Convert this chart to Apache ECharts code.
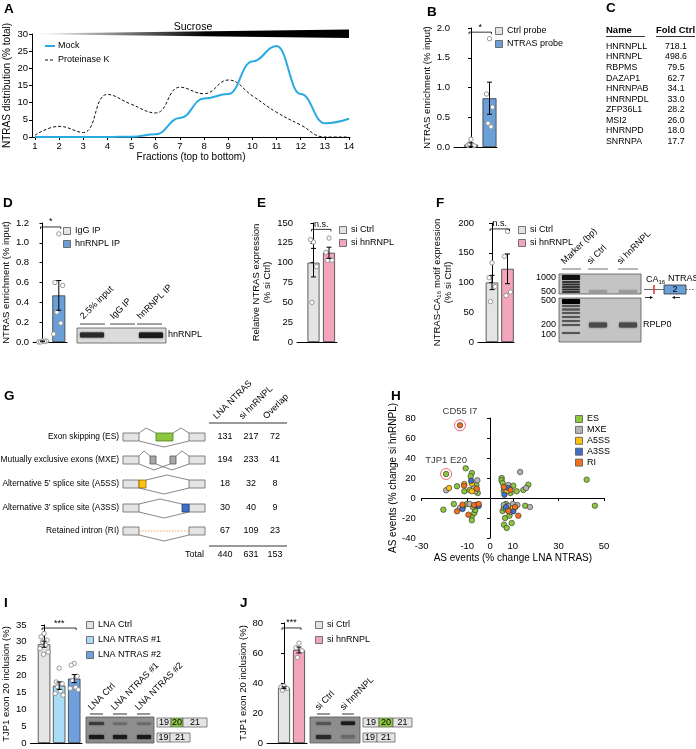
<!DOCTYPE html>
<html><head><meta charset="utf-8">
<script src="https://cdn.jsdelivr.net/npm/echarts@6/dist/echarts.min.js"></script>
<style>html,body{margin:0;padding:0;background:#fff}#c{width:696px;height:749px}</style>
</head><body><div id="c"></div>
<script>
// ================= DATA =================
// A
const fractions = [1,2,3,4,5,6,7,8,9,10,11,12,13,14];
const mockValues = [0,0,0,0,0.1,0.8,5.5,11.2,12.5,22,26.5,12.5,4,5.3];
const protKValues = [0.5,3.1,1.3,12.4,9.5,7,14.5,12.6,16.6,12,7.2,3.5,0,0];
// B
const bCats = ['Ctrl probe','NTRAS probe'];
const bMeans = [0.04, 0.82];
const bErrors = [0.03, 0.27];
const bPoints = [[0.13,0.03,0.02,0.05],[1.82,0.89,0.67,0.40,0.34]];
// C
const cNames = ['HNRNPLL','HNRNPL','RBPMS','DAZAP1','HNRNPAB','HNRNPDL','ZFP36L1','MSI2','HNRNPD','SNRNPA'];
const cFold = ['718.1','498.6','79.5','62.7','34.1','33.0','28.2','26.0','18.0','17.7'];
// D
const dCats = ['IgG IP','hnRNPL IP'];
const dMeans = [0.006, 0.47];
const dErrors = [0.004, 0.15];
const dPoints = [[0.01,0.0,0.01,0.0,0.005],[1.09,0.60,0.57,0.30,0.19,0.08]];
const dLanes = ['2.5% input','IgG IP','hnRNPL IP'];
// E
const eCats = ['si Ctrl','si hnRNPL'];
const eMeans = [100, 112.5];
const eErrors = [18, 7];
const ePoints = [[126,129,95,50],[131,113,103,103]];
// F
const fCats = ['si Ctrl','si hnRNPL'];
const fMeans = [100, 123];
const fErrors = [12, 25];
const fPoints = [[133,108,93,68],[186,144,84,78]];
const fLanes = ['Marker (bp)','si Ctrl','si hnRNPL'];
const fMarkerTop = ['1000','500'];
const fMarkerBottom = ['500','200','100'];
// G
const gEvents = ['Exon skipping (ES)','Mutually exclusive exons (MXE)','Alternative 5\u2019 splice site (A5SS)','Alternative 3\u2019 splice site (A3SS)','Retained intron (RI)'];
const gCols = ['LNA NTRAS','si hnRNPL','Overlap'];
const gLNA = [131,194,18,30,67];
const gSi = [217,233,32,40,109];
const gOverlap = [72,41,8,9,23];
const gTotal = [440,631,153];
// H
const hCats = ['ES','MXE','A5SS','A3SS','RI'];
const hES = [[-19.3,24],[-10.7,29.7],[-8,25],[-8.5,21.7],[-14.5,11.7],[-11.3,6.7],[-5.4,5],[-9,8],[-6,13],
  [-20.5,-11.7],[-15.9,-6],[-10.2,-6],[-8,-18.3],[-8,-22.3],[-6.9,-15],[-6.5,-12],[-7.5,-9],[-12,-9],
  [5.1,20],[5,17.7],[5.5,15],[16.8,13.3],[14.6,8],[10.2,12.3],[11.7,6.7],[9,5],[6,7],
  [6.1,-26.7],[7.3,-30],[9.5,-25],[6.6,-20],[8.5,-17.7],[15.4,-7.7],[5.5,-13],[6,-10],[7,-6],[9,-11],[11,-9],
  [42.4,18.3],[46,-7.7]];
const hMXE = [[-19.3,7.7],[-5.6,17.7],[-6.4,6.7],[-7,10],[-13.2,-10],[-9,-6],[-6,-8],
  [13.2,26],[15.8,10],[6.6,9],[8,13],[17.5,-9],[8,-8],[10,-6],[12,-7],[6,-7],[7,-11],[9,-14]];
const hA5SS = [[-18,10],[-11.3,14],[-8,14.3],[-8,6.7],[7.3,6.7],[8,-12],[-6,-7],[10,-10]];
const hA3SS = [[-8.3,17.3],[-12.1,-11],[-6,-7],[6.3,3.3],[8,10],[10.2,-13.3],[7,-9],[-5,-8]];
const hRI = [[-13.2,72.7],[-11.4,12.3],[-5.8,9.3],[-14.5,-13.3],[-12.1,-6.7],[-9.5,-16.7],[-7,-7],[-5,-6],
  [6,11],[9,8],[12.4,-17.7],[8,-13],[11,-9]];
const hHighlights = [['CD55 I7',-13.2,72.7],['TJP1 E20',-19.3,24]];
// I
const iCats = ['LNA Ctrl','LNA NTRAS #1','LNA NTRAS #2'];
const iMeans = [29.3, 17.0, 19.1];
const iErrors = [0.9, 1.1, 1.2];
const iPoints = [[32.5,31.5,30.5,30,29,28,27,26.3],[22.2,18.1,17.6,16.6,15.4,14.7,14.2],[23.6,23.1,19.8,18.5,16.5,16.2,15.8]];
// J
const jCats = ['si Ctrl','si hnRNPL'];
const jMeans = [36.8, 62];
const jErrors = [0.6, 2];
const jPoints = [[38,37.3,36.4,35.2],[66.6,63.5,61.5,57]];

// ================= LAYOUT / STYLE =================
const FONT = '"Liberation Sans", Arial, Helvetica, sans-serif';
const GRAY = '#e4e4e4', BLUE = '#6a9fd8', PINK = '#f3a5bb', LBLUE = '#a9ddf5', MBLUE = '#6f9fdc';
const JIT = [0,-3,3,-1.5,1.5,-4,4,-0.5];
const grids = [], xAxes = [], yAxes = [], series = [], G = [];

function txt(x, y, t, o) {
  o = o || {};
  G.push({type:'text', x:x, y:y, rotation:o.rot || 0, scaleX:o.sx || 1, z:10,
    style:{text:t, fill:o.color || '#000', fontSize:o.size || 9, fontFamily:FONT, fontWeight:o.bold ? 'bold' : 'normal',
      align:o.align || 'left', verticalAlign:o.va || 'middle', rich:o.rich}});
}
function rect(x, y, w, h, fill, stroke, lw, extra) {
  G.push(Object.assign({type:'rect', z:9, shape:{x:x, y:y, width:w, height:h},
    style:{fill:fill, stroke:stroke || null, lineWidth:lw || 0}}, extra || {}));
}
function line(x1, y1, x2, y2, color, lw, dash) {
  G.push({type:'line', z:9, shape:{x1:x1, y1:y1, x2:x2, y2:y2}, style:{stroke:color || '#000', lineWidth:lw || 1, lineDash:dash || null}});
}
function poly(points, color, lw, dash) {
  G.push({type:'polyline', z:9, shape:{points:points}, style:{stroke:color || '#555', lineWidth:lw || 0.7, fill:null, lineDash:dash || null}});
}
function band(x, y, w, h, color, blur) {
  G.push({type:'rect', z:9, shape:{x:x, y:y, width:w, height:h, r:1},
    style:{fill:color, shadowBlur:blur || 2, shadowColor:color}});
}
function legend(x, y0, dy, labels, colors) {
  labels.forEach(function (l, i) {
    rect(x - 3.5, y0 + i * dy - 3.5, 7, 7, colors[i], '#555', 0.8);
    txt(x + 8, y0 + i * dy, l, {size:9});
  });
}
function letter(x, y, t) { txt(x, y, t, {size:13.5, bold:true}); }

function axisNameStyle() { return {fontSize:9.5, color:'#000', fontFamily:FONT, lineHeight:11}; }

function barPanel(c) {
  const gi = grids.length;
  grids.push({left:c.L, top:c.top, width:c.R - c.L, height:c.bottom - c.top});
  const unit = c.centers[1] - c.centers[0];
  const xi = xAxes.length, yi = yAxes.length;
  xAxes.push({type:'value', gridIndex:gi, min:-(c.centers[0] - c.L) / unit, max:(c.R - c.centers[0]) / unit,
    axisLine:{show:true, onZero:false, lineStyle:{color:'#000', width:1}}, axisTick:{show:false}, axisLabel:{show:false}, splitLine:{show:false}});
  yAxes.push({type:'value', gridIndex:gi, min:c.yMin, max:c.yMax, interval:c.yInt,
    name:c.yName, nameLocation:'middle', nameGap:c.nameGap, nameTextStyle:axisNameStyle(),
    axisLine:{show:true, lineStyle:{color:'#000', width:1}}, axisTick:{show:true, length:3, lineStyle:{color:'#000'}},
    axisLabel:{fontSize:9.5, color:'#000', margin:4, formatter:function (v) { return v.toFixed(c.yDec); }}, splitLine:{show:false}});
  series.push({type:'bar', xAxisIndex:xi, yAxisIndex:yi, barWidth:c.barW, z:2,
    data:c.means.map(function (m, i) { return {value:[i, m], itemStyle:{color:c.colors[i]}}; }),
    itemStyle:{borderColor:'#3a3a3a', borderWidth:0.8}});
  // data points
  const pd = [];
  c.pts.forEach(function (arr, i) { arr.forEach(function (v, k) { pd.push([i, v, k]); }); });
  series.push({type:'custom', xAxisIndex:xi, yAxisIndex:yi, z:4, data:pd, clip:false,
    renderItem:function (p, api) {
      const pt = api.coord([api.value(0), api.value(1)]);
      const off = JIT[api.value(2) % JIT.length] * (c.jit || 1);
      return {type:'circle', shape:{cx:pt[0] + off, cy:pt[1], r:2.2}, style:{fill:'#fff', stroke:'#8c8c8c', lineWidth:0.9}};
    }});
  // error bars
  series.push({type:'custom', xAxisIndex:xi, yAxisIndex:yi, z:5, clip:false,
    data:c.means.map(function (m, i) { return [i, m - c.errs[i], m + c.errs[i]]; }),
    renderItem:function (p, api) {
      const lo = api.coord([api.value(0), api.value(1)]), hi = api.coord([api.value(0), api.value(2)]);
      const cap = 2.5, st = {stroke:'#000', lineWidth:1};
      return {type:'group', children:[
        {type:'line', shape:{x1:lo[0], y1:lo[1], x2:hi[0], y2:hi[1]}, style:st},
        {type:'line', shape:{x1:hi[0] - cap, y1:hi[1], x2:hi[0] + cap, y2:hi[1]}, style:st},
        {type:'line', shape:{x1:lo[0] - cap, y1:lo[1], x2:lo[0] + cap, y2:lo[1]}, style:st}]};
    }});
  // significance bracket
  series.push({type:'custom', xAxisIndex:xi, yAxisIndex:yi, z:5, clip:false,
    data:[[0, c.means.length - 1, c.sigY]],
    renderItem:function (p, api) {
      const a = api.coord([api.value(0), api.value(2)]), b = api.coord([api.value(1), api.value(2)]);
      const st = {stroke:'#000', lineWidth:0.8};
      return {type:'group', children:[
        {type:'line', shape:{x1:a[0] - 2, y1:a[1], x2:b[0] + 2, y2:b[1]}, style:st},
        {type:'line', shape:{x1:a[0] - 2, y1:a[1], x2:a[0] - 2, y2:a[1] + 2}, style:st},
        {type:'line', shape:{x1:b[0] + 2, y1:b[1], x2:b[0] + 2, y2:b[1] + 2}, style:st},
        {type:'text', x:(a[0] + b[0]) / 2, y:a[1] - 0.5, style:{text:c.sig, align:'center', verticalAlign:'bottom', fontSize:c.sigSize || 9, fontFamily:FONT, fill:'#000'}}]};
    }});
}

// ---------- Panel A ----------
letter(4, 9, 'A');
grids.push({left:32, top:34, width:318, height:103});
xAxes.push({type:'value', gridIndex:0, min:0.88, max:14.04,
  name:'Fractions (top to bottom)', nameLocation:'middle', nameGap:15, nameTextStyle:{fontSize:10, color:'#000'},
  axisLine:{onZero:false, lineStyle:{color:'#000'}}, axisTick:{length:3, customValues:fractions, lineStyle:{color:'#000'}},
  axisLabel:{customValues:fractions, fontSize:9.5, color:'#000', margin:4}, splitLine:{show:false}});
yAxes.push({type:'value', gridIndex:0, min:0, max:30, interval:5,
  name:'NTRAS distribution (% total)', nameLocation:'middle', nameGap:20, nameTextStyle:{fontSize:10, color:'#000'},
  axisLine:{show:true, lineStyle:{color:'#000'}}, axisTick:{show:true, length:3, lineStyle:{color:'#000'}},
  axisLabel:{fontSize:9.5, color:'#000', margin:4}, splitLine:{show:false}});
series.push({type:'line', xAxisIndex:0, yAxisIndex:0, smooth:0.45, symbol:'none', z:3,
  data:fractions.map(function (f, i) { return [f, protKValues[i]]; }),
  lineStyle:{color:'#111', width:1, type:[3, 2]}});
series.push({type:'line', xAxisIndex:0, yAxisIndex:0, smooth:0.45, smoothMonotone:'x', symbol:'none', z:4,
  data:fractions.map(function (f, i) { return [f, mockValues[i]]; }),
  lineStyle:{color:'#29abe2', width:2}});
G.push({type:'polygon', z:8, shape:{points:[[35,33.6],[349,29.6],[349,38],[35,34.3]]},
  style:{fill:new echarts.graphic.LinearGradient(0, 0, 1, 0, [{offset:0, color:'#ffffff'}, {offset:0.55, color:'#000'}, {offset:1, color:'#000'}])}});
txt(193, 27, 'Sucrose', {size:10.5, align:'center'});
line(45, 46, 55, 46, '#29abe2', 2);
txt(58, 46, 'Mock', {size:9});
line(45, 60, 55, 60, '#111', 1, [3, 2]);
txt(58, 60, 'Proteinase K', {size:9});

// ---------- Panel B ----------
letter(427, 12, 'B');
barPanel({L:454, R:497, top:28, bottom:147, centers:[471, 489.5], barW:14, yMin:0, yMax:2, yInt:0.5, yDec:1,
  yName:'NTRAS enrichment (% input)', nameGap:17, means:bMeans, errs:bErrors, pts:bPoints, colors:[GRAY, BLUE], sig:'*', sigY:1.93});
legend(499, 31, 13, bCats, [GRAY, BLUE]);

// ---------- Panel C ----------
letter(606, 8, 'C');
txt(606, 30, 'Name', {size:9.5, bold:true});
line(606, 36.5, 645, 36.5, '#000', 0.8);
txt(656, 30, 'Fold Ctrl', {size:9.5, bold:true});
line(656, 36.5, 695, 36.5, '#000', 0.8);
cNames.forEach(function (n, i) {
  txt(606, 46.5 + i * 10.56, n, {size:8.8});
  txt(676, 46.5 + i * 10.56, cFold[i], {size:8.8, align:'center'});
});

// ---------- Panel D ----------
letter(3, 203, 'D');
barPanel({L:31, R:67, top:223, bottom:342, centers:[41, 58.3], barW:13, yMin:0, yMax:1.2, yInt:0.2, yDec:1, jit:1.3,
  yName:'NTRAS enrichment (% input)', nameGap:16, means:dMeans, errs:dErrors, pts:dPoints, colors:[GRAY, BLUE], sig:'*', sigY:1.16});
legend(67, 231, 13, dCats, [GRAY, BLUE]);
// western blot
rect(77, 328, 89, 15, '#dcdcdc', '#555', 0.8);
band(80, 332.5, 24, 5, '#2a2a2a', 2);
band(139, 332.5, 24, 5.5, '#1a1a1a', 2);
[[80, 105], [110, 135], [137, 162]].forEach(function (s, i) {
  line(s[0], 324, s[1], 324, '#444', 1);
  txt(s[0] + 5, 321, dLanes[i], {size:9, rot:Math.PI / 4, va:'bottom'});
});
txt(168, 335, 'hnRNPL', {size:9});

// ---------- Panel E ----------
letter(257, 203, 'E');
barPanel({L:297, R:337, top:223, bottom:342, centers:[313.5, 329], barW:12, yMin:0, yMax:150, yInt:25, yDec:0,
  yName:'Relative NTRAS expression\n(% si Ctrl)', nameGap:16, means:eMeans, errs:eErrors, pts:ePoints, colors:[GRAY, PINK], sig:'n.s.', sigY:142});
legend(343, 230, 13, eCats, [GRAY, PINK]);

// ---------- Panel F ----------
letter(436, 203, 'F');
barPanel({L:478, R:514, top:223, bottom:342, centers:[492, 507.5], barW:12.5, yMin:0, yMax:200, yInt:50, yDec:0,
  yName:'NTRAS-CA\u2081\u2086 motif expression\n(% si Ctrl)', nameGap:18, means:fMeans, errs:fErrors, pts:fPoints, colors:[GRAY, PINK], sig:'n.s.', sigY:190});
legend(522, 230, 13, fCats, [GRAY, PINK]);
// gel
[[562, 581], [588, 608], [618, 638]].forEach(function (s, i) {
  line(s[0], 269, s[1], 269, '#888', 1.2);
  txt(s[0] + 4, 266, fLanes[i], {size:9, rot:Math.PI / 4, va:'bottom'});
});
rect(559, 274, 82, 20, '#c4c4c4', '#555', 0.8);
band(562, 275, 18, 5, '#111', 1);
[282, 284.5, 287, 289.5, 292].forEach(function (y) { band(562, y - 0.8, 18, 1.6, '#2a2a2a', 1); });
band(589, 290, 18, 3, '#9a9a9a', 2);
band(619, 290, 18, 3, '#9a9a9a', 2);
rect(559, 298, 82, 44, '#c4c4c4', '#555', 0.8);
band(562, 299, 18, 5, '#000', 1);
[306, 309.5, 313, 317, 321, 325, 333].forEach(function (y) { band(562, y - 0.9, 18, 1.8, '#555', 1); });
band(589, 322.5, 18, 5, '#4a4a4a', 2);
band(619, 322.5, 18, 5, '#4a4a4a', 2);
txt(556, 278, fMarkerTop[0], {size:9, align:'right'});
txt(556, 292, fMarkerTop[1], {size:9, align:'right'});
txt(556, 301, fMarkerBottom[0], {size:9, align:'right'});
txt(556, 325, fMarkerBottom[1], {size:9, align:'right'});
txt(556, 335, fMarkerBottom[2], {size:9, align:'right'});
txt(643, 325, 'RPLP0', {size:9});
// NTRAS schematic
txt(646, 280, '{a|CA}{b|16}', {size:9, rich:{a:{fontSize:9, fontFamily:FONT}, b:{fontSize:6, fontFamily:FONT, padding:[5, 0, 0, 0]}}});
txt(668, 279, 'NTRAS', {size:9});
line(644, 289.5, 664, 289.5, '#444', 0.8);
line(686, 289.5, 695, 289.5, '#444', 0.8, [1.5, 1.5]);
line(654, 285, 654, 294, '#e03030', 1.5);
rect(664, 285, 22, 9, '#6a9fd8', '#333', 0.8);
txt(675, 290, '2', {size:9, align:'center'});
line(645, 297.5, 651, 297.5, '#000', 0.8);
G.push({type:'polygon', z:9, shape:{points:[[653, 297.5], [650, 296], [650, 299]]}, style:{fill:'#000'}});
line(674, 297.5, 680, 297.5, '#000', 0.8);
G.push({type:'polygon', z:9, shape:{points:[[672, 297.5], [675, 296], [675, 299]]}, style:{fill:'#000'}});

// ---------- Panel G ----------
letter(4, 396, 'G');
const gRowY = [437, 460, 484, 508, 531];
const gColX = [225, 251, 275];
gCols.forEach(function (c, i) { txt(gColX[i] - 7, 421, c, {size:9, rot:Math.PI / 4, va:'bottom'}); });
line(209, 423, 287, 423, '#000', 0.8);
line(209, 546, 287, 546, '#000', 0.8);
gEvents.forEach(function (ev, i) {
  const y = gRowY[i];
  txt(119, y, ev, {size:8.8, align:'right', sx:0.95});
  [gLNA[i], gSi[i], gOverlap[i]].forEach(function (v, j) { txt(gColX[j], y, String(v), {size:9, align:'center'}); });
  rect(123, y - 4, 16, 8, GRAY, '#666', 0.8);
  rect(189, y - 4, 16, 8, GRAY, '#666', 0.8);
  if (i === 0) {
    rect(156, y - 4, 17, 8, '#8dc63f', '#4f7f1f', 0.8);
    poly([[139, y - 4], [146, y - 9], [156, y - 4]]);
    poly([[173, y - 4], [181, y - 9], [189, y - 4]]);
    poly([[139, y + 4], [164, y + 10], [189, y + 4]]);
  } else if (i === 1) {
    rect(150, y - 4, 6, 8, '#a8a8a8', '#555', 0.8);
    rect(170, y - 4, 6, 8, '#a8a8a8', '#555', 0.8);
    poly([[139, y - 4], [144, y - 9], [150, y - 4]]);
    poly([[176, y - 4], [182, y - 9], [189, y - 4]]);
    poly([[139, y + 4], [154, y + 10], [170, y + 4]]);
    poly([[156, y + 4], [172, y + 10], [189, y + 4]]);
  } else if (i === 2) {
    rect(139, y - 4, 7, 8, '#ffc20e', '#8a6a00', 0.8);
    poly([[146, y - 4], [167, y - 9], [189, y - 4]]);
    poly([[139, y + 4], [164, y + 10], [189, y + 4]]);
  } else if (i === 3) {
    rect(182, y - 4, 7, 8, '#3f6fc6', '#1f3f80', 0.8);
    poly([[139, y - 4], [160, y - 9], [182, y - 4]]);
    poly([[139, y + 4], [164, y + 10], [189, y + 4]]);
  } else {
    poly([[139, y], [189, y]], '#f7a35c', 1, [1.5, 1.5]);
    poly([[139, y + 4], [164, y + 10], [189, y + 4]]);
  }
});
txt(204, 555, 'Total', {size:9, align:'right'});
gTotal.forEach(function (v, j) { txt(gColX[j], 555, String(v), {size:9, align:'center'}); });

// ---------- Panel H ----------
letter(391, 396, 'H');
const hL = 421.7, hT = 418, hW = 182.3, hH = 120;
let gi = grids.length;
grids.push({left:hL, top:hT, width:hW, height:hH});
const hx = xAxes.length, hy = yAxes.length;
xAxes.push({type:'value', gridIndex:gi, min:-30, max:50, name:'AS events (% change LNA NTRAS)', nameLocation:'middle', nameGap:15,
  nameTextStyle:{fontSize:10, color:'#000'}, axisLine:{show:false, onZero:false}, axisTick:{show:false},
  axisLabel:{customValues:[-30, -10, 0, 10, 30, 50], fontSize:9.5, color:'#000', margin:3}, splitLine:{show:false}});
yAxes.push({type:'value', gridIndex:gi, min:-40, max:80, interval:20, name:'AS events (% change si hnRNPL)', nameLocation:'middle', nameGap:19,
  nameTextStyle:{fontSize:10, color:'#000'}, axisLine:{show:false, onZero:false}, axisTick:{show:false},
  axisLabel:{fontSize:9.5, color:'#000', margin:6}, splitLine:{show:false}});
const hColors = ['#8dc63f', '#b5b5b5', '#ffc20e', '#3f6fc6', '#f37021'];
[hES, hMXE, hA5SS, hA3SS, hRI].forEach(function (d, i) {
  series.push({type:'scatter', name:hCats[i], xAxisIndex:hx, yAxisIndex:hy, data:d, symbolSize:5.5, z:3,
    itemStyle:{color:hColors[i], borderColor:'#2a2a2a', borderWidth:0.6, opacity:1}});
});
series.push({type:'scatter', xAxisIndex:hx, yAxisIndex:hy, z:4, symbolSize:11,
  data:hHighlights.map(function (h) { return {name:h[0], value:[h[1], h[2]]}; }),
  itemStyle:{color:'rgba(0,0,0,0)', borderColor:'#e8474f', borderWidth:1},
  label:{show:true, position:'top', distance:3, formatter:'{b}', fontSize:9.5, color:'#000'}});
// cross axes
gi = grids.length;
grids.push({left:hL, top:hT, width:hW, height:hH});
xAxes.push({type:'value', gridIndex:gi, min:-30, max:50, axisLine:{show:true, onZero:true, lineStyle:{color:'#000'}},
  axisTick:{show:true, length:3, customValues:[-30, -10, 10, 30, 50], lineStyle:{color:'#000'}}, axisLabel:{show:false}, splitLine:{show:false}});
yAxes.push({type:'value', gridIndex:gi, min:-40, max:80, interval:20, axisLine:{show:true, onZero:true, lineStyle:{color:'#000'}},
  axisTick:{show:true, length:3, lineStyle:{color:'#000'}}, axisLabel:{show:false}, splitLine:{show:false}});
legend(579, 419, 10.9, hCats, hColors);

// ---------- Panel I ----------
letter(4, 603, 'I');
barPanel({L:29, R:82, top:625, bottom:743, centers:[43, 58.5, 73.5], barW:12.5, yMin:0, yMax:35, yInt:5, yDec:0,
  yName:'TJP1 exon 20 inclusion (%)', nameGap:16, means:iMeans, errs:iErrors, pts:iPoints, colors:[GRAY, LBLUE, MBLUE], sig:'***', sigY:34.1});
legend(90, 625, 15, iCats, [GRAY, LBLUE, MBLUE]);
rect(86, 717, 68, 26, '#8e8e8e', '#555', 0.8);
band(89, 722, 15, 3, '#3a3a3a', 2);
band(113, 722.5, 14, 2.5, '#6a6a6a', 2);
band(137, 722.5, 14, 2.5, '#6a6a6a', 2);
band(89, 735, 15, 4, '#1a1a1a', 2);
band(113, 735, 14, 4, '#1a1a1a', 2);
band(137, 735, 14, 4, '#1a1a1a', 2);
[[90, 103], [113, 127], [137, 150]].forEach(function (s, i) {
  line(s[0], 714, s[1], 714, '#333', 1);
  txt(s[0] + 3, 712, iCats[i], {size:9, rot:Math.PI / 4, va:'bottom'});
});
function exonStrip(x0, y, widths, labels, colors) {
  let x = x0;
  widths.forEach(function (w, k) {
    rect(x, y, w, 9, colors[k], '#666', 0.8);
    txt(x + w / 2, y + 4.7, labels[k], {size:9, align:'center'});
    x += w;
  });
}
exonStrip(157, 718, [14, 12, 24], ['19', '20', '21'], [GRAY, '#8dc63f', GRAY]);
exonStrip(157, 733, [13, 20], ['19', '21'], [GRAY, GRAY]);

// ---------- Panel J ----------
letter(240, 603, 'J');
barPanel({L:267, R:307, top:623, bottom:743, centers:[284, 299], barW:12, yMin:0, yMax:80, yInt:20, yDec:0,
  yName:'TJP1 exon 20 inclusion (%)', nameGap:15, means:jMeans, errs:jErrors, pts:jPoints, colors:[GRAY, PINK], sig:'***', sigY:76.7});
legend(319, 625, 15, jCats, [GRAY, PINK]);
rect(310, 717, 50, 26, '#8e8e8e', '#555', 0.8);
band(316, 722, 15, 3, '#555', 2);
band(341, 721.5, 14, 3.5, '#1a1a1a', 2);
band(316, 735, 15, 4, '#2a2a2a', 2);
band(341, 735, 14, 3.5, '#6a6a6a', 2);
[[317, 330], [342, 354]].forEach(function (s, i) {
  line(s[0], 714, s[1], 714, '#333', 1);
  txt(s[0] + 3, 712, jCats[i], {size:9, rot:Math.PI / 4, va:'bottom'});
});
exonStrip(363, 718, [16, 14, 19], ['19', '20', '21'], [GRAY, '#8dc63f', GRAY]);
exonStrip(363, 733, [14, 18], ['19', '21'], [GRAY, GRAY]);

// ================= RENDER =================
const chart = echarts.init(document.getElementById('c'), null, {renderer:'canvas'});
chart.setOption({animation:false, backgroundColor:'#fff', textStyle:{fontFamily:FONT},
  grid:grids, xAxis:xAxes, yAxis:yAxes, series:series, graphic:{elements:G}});
</script></body></html>
